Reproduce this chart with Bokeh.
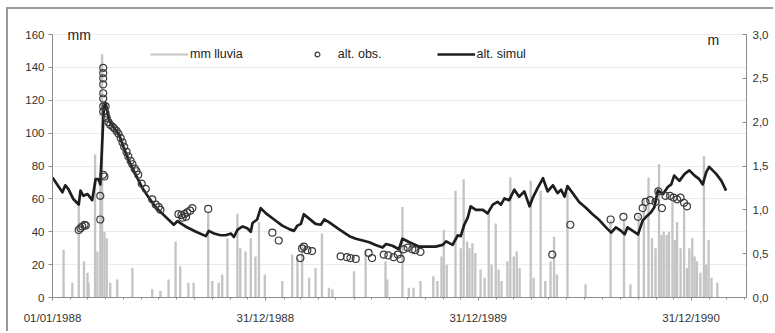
import numpy as np
import pandas as pd
from bokeh.plotting import figure
from bokeh.models import (Range1d, LinearAxis, FixedTicker, DatetimeTickFormatter,
                          Legend, LegendItem, Label)
from bokeh.embed import file_html
from bokeh.resources import INLINE

START = "1988-01-01"
AXIS_END = "1991-04-05"

x_tick_dates = ["1988-01-01", "1988-12-31", "1989-12-31", "1990-12-31"]
mm_ticks = [0, 20, 40, 60, 80, 100, 120, 140, 160]
m_ticks = [0.0, 0.5, 1.0, 1.5, 2.0, 2.5, 3.0]
m_tick_labels = ["0,0", "0,5", "1,0", "1,5", "2,0", "2,5", "3,0"]

# daily rainfall (mm), day offset from START
rain_day = [19, 34, 45, 54, 60, 62, 73, 77, 82, 85, 89, 93, 99, 111, 137, 171, 185, 199, 211, 219,
            233, 242, 267, 274, 285, 291, 300, 317, 322, 331, 340, 348, 354, 364, 394, 411, 420, 428,
            440, 451, 462, 474, 480, 517, 537, 571, 574, 600, 611, 619, 631,
            653, 660, 667, 671, 676, 691, 700, 705, 711, 715, 720, 725, 734, 741, 748, 753, 760, 765,
            770, 780, 785, 791, 796, 801, 820, 825, 837, 845, 854, 860, 865, 883, 914, 957, 980, 991,
            1005, 1014, 1022, 1028, 1034, 1040, 1044, 1048, 1053, 1057, 1063, 1067, 1071, 1077, 1083,
            1088, 1092, 1097, 1101, 1105, 1111, 1117, 1121, 1125, 1130, 1140]
rain_mm = [29, 9, 56, 22, 15, 9, 87, 28, 73, 148, 40, 36, 9, 11, 18, 5, 4, 11, 34, 19,
           9, 9, 52, 10, 9, 14, 36, 51, 30, 28, 36, 25, 46, 14, 10, 26, 24, 32,
           12, 18, 39, 6, 5, 16, 28, 22, 11, 55, 6, 6, 10,
           13, 10, 25, 41, 20, 65, 30, 72, 34, 30, 33, 27, 17, 12, 52, 20, 45, 17,
           10, 22, 73, 25, 28, 18, 71, 12, 65, 10, 22, 37, 14, 64, 8, 47, 48, 8,
           50, 60, 73, 36, 30, 81, 38, 40, 38, 40, 58, 35, 46, 30, 54,
           18, 30, 36, 25, 22, 15, 86, 20, 35, 12, 9]

# simulated level (m)
sim_day = [0, 8, 17, 22, 27, 36, 45, 48, 53, 60, 68, 74, 79, 82, 88, 91, 97, 105, 114, 122,
           131, 142, 154, 165, 177, 194, 208, 214, 228, 246, 263, 268, 277, 288, 297, 306, 311, 317, 326, 334,
           340, 343, 351, 357, 366, 380, 394, 406, 414, 420, 426, 431, 440, 451, 460, 466, 474, 491, 509, 520,
           532, 543, 554, 566, 572, 583, 594, 600, 612, 629, 646, 657, 669, 675, 686, 695, 700, 706, 712, 717,
           726, 738, 746, 755, 763, 769, 775, 783, 792, 800, 809, 818, 823, 832, 841, 849, 858, 866, 872, 878,
           883, 892, 903, 915, 926, 938, 949, 958, 966, 975, 981, 986, 995, 1004, 1012, 1018, 1026, 1032, 1038, 1047,
           1055, 1061, 1066, 1075, 1084, 1092, 1101, 1109, 1115, 1121, 1126, 1132, 1138, 1147, 1155]
sim_m = [1.37, 1.29, 1.20, 1.28, 1.24, 1.12, 1.06, 1.22, 1.16, 1.18, 1.11, 1.35, 1.35, 1.29, 2.17, 2.22, 2.02, 1.94, 1.86, 1.71,
         1.56, 1.41, 1.25, 1.14, 1.03, 0.92, 0.83, 0.87, 0.81, 0.75, 0.70, 0.76, 0.73, 0.71, 0.71, 0.73, 0.69, 0.77, 0.81, 0.79,
         0.75, 0.85, 0.89, 1.02, 0.96, 0.89, 0.82, 0.78, 0.76, 0.82, 0.84, 0.95, 0.90, 0.84, 0.83, 0.89, 0.86, 0.78, 0.70, 0.67,
         0.65, 0.63, 0.60, 0.57, 0.61, 0.59, 0.55, 0.67, 0.63, 0.58, 0.58, 0.58, 0.60, 0.64, 0.60, 0.71, 0.70, 0.83, 0.91, 1.04,
         1.00, 1.00, 0.96, 1.06, 1.09, 1.06, 1.13, 1.11, 1.23, 1.15, 1.21, 1.04, 1.13, 1.25, 1.36, 1.21, 1.28, 1.19, 1.23, 1.15,
         1.27, 1.19, 1.09, 1.02, 0.95, 0.88, 0.80, 0.74, 0.80, 0.76, 0.72, 0.80, 0.76, 0.72, 0.88, 0.92, 0.97, 1.03, 1.22, 1.18,
         1.26, 1.29, 1.39, 1.33, 1.41, 1.45, 1.39, 1.35, 1.29, 1.43, 1.49, 1.45, 1.41, 1.33, 1.22]

# observed level (m)
obs_day = [45, 48, 51, 55, 57, 82, 82, 87, 87, 87, 87, 87, 87, 87, 87, 87, 89,
           91, 91, 93, 96, 99, 103, 106, 110, 113, 117, 120, 123, 127, 130, 134, 137, 141, 144, 147,
           153, 160, 171, 177, 182, 185, 216, 221, 223, 226, 229, 231, 236, 240, 267,
           377, 388, 425, 428, 431, 437, 445, 494, 505, 511, 520, 542, 548,
           568, 576, 585, 592, 597, 602, 609, 617, 622, 631, 857, 888, 957, 979, 1004,
           1012, 1017, 1025, 1034, 1039, 1045, 1051, 1059, 1065, 1071, 1077, 1083, 1088]
obs_m = [0.77, 0.79, 0.81, 0.83, 0.82, 1.16, 0.89, 2.62, 2.56, 2.50, 2.43, 2.33, 2.27, 2.18, 2.12, 1.40, 1.38,
         2.18, 2.10, 2.05, 2.00, 1.97, 1.95, 1.93, 1.90, 1.87, 1.82, 1.77, 1.72, 1.66, 1.61, 1.56, 1.52, 1.47, 1.44, 1.40,
         1.30, 1.24, 1.12, 1.06, 1.03, 1.00, 0.95, 0.94, 0.91, 0.95, 0.92, 0.97, 0.99, 1.02, 1.01,
         0.74, 0.65, 0.45, 0.56, 0.58, 0.54, 0.53, 0.47, 0.46, 0.45, 0.44, 0.51, 0.45,
         0.49, 0.48, 0.46, 0.49, 0.44, 0.55, 0.57, 0.55, 0.54, 0.52, 0.49, 0.83, 0.89, 0.92, 0.92,
         1.02, 1.09, 1.11, 1.09, 1.21, 1.02, 1.16, 1.16, 1.14, 1.12, 1.14, 1.08, 1.04]

t0 = pd.Timestamp(START)
def to_dates(days):
    return t0 + pd.to_timedelta(np.array(days, dtype=float), unit="D")

rain_dates = to_dates(rain_day)
sim_dates = to_dates(sim_day)
obs_dates = to_dates(obs_day)

FONT = "Liberation Sans"
TXT = "#333333"
AX = "#8c8c8c"

# frame: 160 mm at 263 px above the x axis; frame extends 14 px higher for the unit labels
MM_TOP = 160
EXTRA = 277.0 / 263.0

p = figure(width=767, height=324, output_backend="svg", toolbar_location=None,
           x_axis_type="datetime",
           x_range=Range1d(t0, pd.Timestamp(AXIS_END)),
           y_range=Range1d(0, MM_TOP * EXTRA),
           min_border_left=44, min_border_right=29, min_border_top=11, min_border_bottom=36)
p.styles = {"margin-left": "6px", "margin-top": "7px",
            "border-left": "2px solid #9a9a9a", "border-top": "2px solid #9a9a9a"}
p.outline_line_color = None
p.background_fill_color = "white"
p.border_fill_color = "white"
p.extra_y_ranges = {"m": Range1d(0, 3.0 * EXTRA)}

# grid
p.ygrid.ticker = FixedTicker(ticks=mm_ticks)
p.ygrid.grid_line_color = "#ebebeb"
p.xgrid.grid_line_color = None

# x axis
tick_ms = [pd.Timestamp(d).value // 10**6 for d in x_tick_dates]
minor_ms = [d.value // 10**6 for d in pd.date_range(START, AXIS_END, freq="MS")]
p.xaxis.ticker = FixedTicker(ticks=tick_ms, minor_ticks=minor_ms)
fmt = "%d/%m/%Y"
p.xaxis.formatter = DatetimeTickFormatter(milliseconds=fmt, seconds=fmt, minsec=fmt, minutes=fmt,
                                          hourmin=fmt, hours=fmt, days=fmt, months=fmt, years=fmt,
                                          strip_leading_zeros=False)

# left axis
p.yaxis.ticker = FixedTicker(ticks=mm_ticks)
p.yaxis.bounds = (0, MM_TOP)

for ax in [p.xaxis[0], p.yaxis[0]]:
    ax.axis_line_color = AX
    ax.major_tick_line_color = AX
    ax.minor_tick_line_color = AX
    ax.major_label_text_font = FONT
    ax.major_label_text_font_size = "11.5px"
    ax.major_label_text_color = TXT
    ax.major_tick_in = 0
    ax.minor_tick_in = 0

p.xaxis.major_tick_out = 3
p.xaxis.minor_tick_out = 2
p.xaxis.major_label_standoff = 11
p.yaxis.major_tick_out = 4
p.yaxis.minor_tick_out = 0
p.yaxis.major_label_standoff = 4

raxis = LinearAxis(y_range_name="m", ticker=FixedTicker(ticks=m_ticks), bounds=(0, 3.0),
                   major_label_overrides={t: l for t, l in zip(m_ticks, m_tick_labels)})
raxis.axis_line_color = AX
raxis.major_tick_line_color = AX
raxis.minor_tick_out = 0
raxis.major_tick_in = 4
raxis.major_tick_out = 0
raxis.major_label_standoff = 6
raxis.major_label_text_font = FONT
raxis.major_label_text_font_size = "11.5px"
raxis.major_label_text_color = TXT
p.add_layout(raxis, "right")

# data
DAY_MS = 86400000
RAIN_COLOR = "#c4c4c4"
p.vbar(x=rain_dates, top=rain_mm, width=4 * DAY_MS, fill_color=RAIN_COLOR, line_color=None)
rain_leg = p.line(x=np.array([t0, t0]), y=np.array([np.nan, np.nan]),
                  line_color=RAIN_COLOR, line_width=2)
sim_r = p.line(x=sim_dates, y=sim_m, y_range_name="m", line_color="#1e1e1e", line_width=2.7,
               line_join="round")
obs_r = p.scatter(x=obs_dates, y=obs_m, y_range_name="m", marker="circle", size=7,
                  fill_color=None, line_color="#3a3a3a", line_width=1.2)

legend = Legend(items=[LegendItem(label="mm lluvia", renderers=[rain_leg]),
                       LegendItem(label="alt. obs.", renderers=[obs_r]),
                       LegendItem(label="alt. simul", renderers=[sim_r])],
                orientation="horizontal", location=(98, 236),
                glyph_width=38, glyph_height=12, label_height=12, label_standoff=2,
                spacing=55, padding=0, margin=0,
                border_line_alpha=0, background_fill_alpha=0,
                label_text_font=FONT, label_text_font_size="12.5px", label_text_color="#222222")
p.add_layout(legend)

p.add_layout(Label(x=t0, y=MM_TOP, x_offset=15, text="mm", text_baseline="middle",
                   text_font=FONT, text_font_size="14px", text_color="#222222"))
p.add_layout(Label(x=pd.Timestamp(AXIS_END), y=MM_TOP, x_offset=-39, y_offset=-5, text="m",
                   text_baseline="middle", text_font=FONT, text_font_size="14px",
                   text_color="#222222"))

open("out.html", "w").write(file_html(p, INLINE))
